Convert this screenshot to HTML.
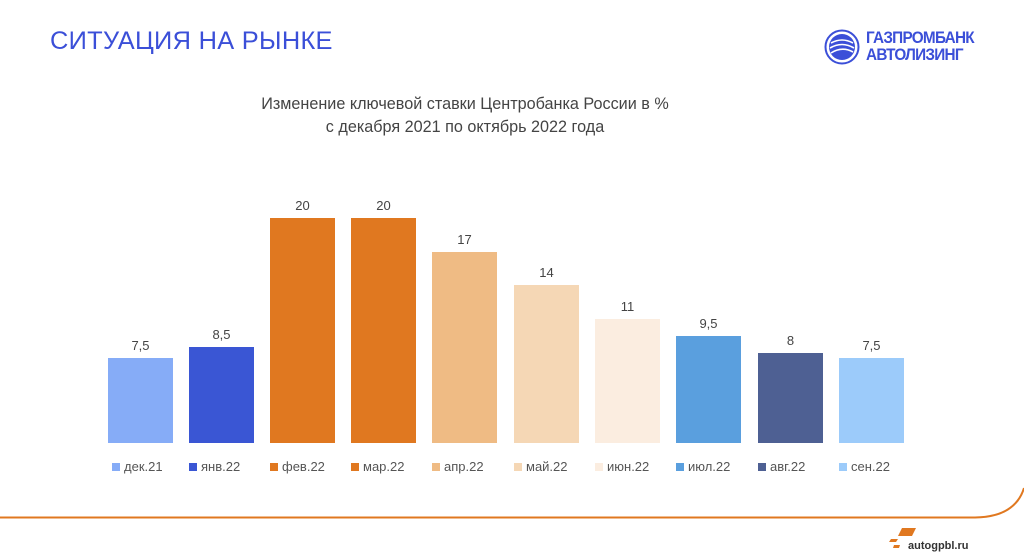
<!DOCTYPE html>
<html><head><meta charset="utf-8"><style>
html,body{margin:0;padding:0;background:#fff;}
body{width:1024px;height:559px;position:relative;overflow:hidden;font-family:"Liberation Sans",sans-serif;}
.t{position:absolute;white-space:nowrap;}
.bar{position:absolute;width:65px;}
.v{position:absolute;width:65px;text-align:center;font-size:13px;color:#444;}
.lg{position:absolute;top:459px;font-size:13px;color:#555;white-space:nowrap;}
.lg i{display:inline-block;width:8px;height:8px;margin-right:4px;vertical-align:0px;}
</style></head><body>
<div class="t" style="left:50px;top:27px;font-size:25.4px;color:#3b4fd8;letter-spacing:0.3px;">СИТУАЦИЯ НА РЫНКЕ</div>
<svg style="position:absolute;left:824px;top:29px" width="36" height="36" viewBox="0 0 36 36">
<circle cx="18" cy="18" r="16.5" fill="none" stroke="#3b4fd8" stroke-width="2"/>
<circle cx="18" cy="18" r="13" fill="#3b4fd8"/>
<path d="M7 14 Q18 8 29 14 M6 19 Q18 12 30 19 M7 24 Q18 17 29 23" stroke="#fff" stroke-width="1.6" fill="none"/>
</svg>
<div class="t" style="left:866px;top:29px;font-size:17px;font-weight:bold;color:#3b4fd8;line-height:17px;letter-spacing:-0.8px;transform:scaleX(0.9);transform-origin:left;">ГАЗПРОМБАНК<br>АВТОЛИЗИНГ</div>
<div class="t" style="left:0;width:930px;text-align:center;top:93px;font-size:16.2px;color:#444;line-height:23px;">Изменение ключевой ставки Центробанка России в %<br>с декабря 2021 по октябрь 2022 года</div>

<div class="bar" style="left:108px;top:358px;height:85px;background:#86acf7"></div>
<div class="bar" style="left:189px;top:347px;height:96px;background:#3a56d4"></div>
<div class="bar" style="left:270px;top:218px;height:225px;background:#e07820"></div>
<div class="bar" style="left:351px;top:218px;height:225px;background:#e07820"></div>
<div class="bar" style="left:432px;top:252px;height:191px;background:#efbb84"></div>
<div class="bar" style="left:514px;top:285px;height:158px;background:#f5d7b5"></div>
<div class="bar" style="left:595px;top:319px;height:124px;background:#fbede0"></div>
<div class="bar" style="left:676px;top:336px;height:107px;background:#5a9fde"></div>
<div class="bar" style="left:758px;top:353px;height:90px;background:#4e6093"></div>
<div class="bar" style="left:839px;top:358px;height:85px;background:#9ccbfa"></div>

<div class="v" style="left:108px;top:338px">7,5</div>
<div class="v" style="left:189px;top:327px">8,5</div>
<div class="v" style="left:270px;top:198px">20</div>
<div class="v" style="left:351px;top:198px">20</div>
<div class="v" style="left:432px;top:232px">17</div>
<div class="v" style="left:514px;top:265px">14</div>
<div class="v" style="left:595px;top:299px">11</div>
<div class="v" style="left:676px;top:316px">9,5</div>
<div class="v" style="left:758px;top:333px">8</div>
<div class="v" style="left:839px;top:338px">7,5</div>

<div class="lg" style="left:112px"><i style="background:#86acf7"></i>дек.21</div>
<div class="lg" style="left:189px"><i style="background:#3a56d4"></i>янв.22</div>
<div class="lg" style="left:270px"><i style="background:#e07820"></i>фев.22</div>
<div class="lg" style="left:351px"><i style="background:#e07820"></i>мар.22</div>
<div class="lg" style="left:432px"><i style="background:#efbb84"></i>апр.22</div>
<div class="lg" style="left:514px"><i style="background:#f5d7b5"></i>май.22</div>
<div class="lg" style="left:595px"><i style="background:#fbede0"></i>июн.22</div>
<div class="lg" style="left:676px"><i style="background:#5a9fde"></i>июл.22</div>
<div class="lg" style="left:758px"><i style="background:#4e6093"></i>авг.22</div>
<div class="lg" style="left:839px"><i style="background:#9ccbfa"></i>сен.22</div>

<svg style="position:absolute;left:0;top:0" width="1024" height="559">
<path d="M0 517.5 L975 517.5 Q1015 517 1024 488" stroke="#e07820" stroke-width="2" fill="none"/>
<path d="M898 536 L912 536 L916 528 L902 528 Z M889 542 L896 542 L898 539 L891 539 Z M893 548 L899 548 L900 545 L894 545 Z" fill="#e07820"/>
</svg>
<div class="t" style="left:908px;top:540px;font-size:11px;font-weight:bold;color:#333;">autogpbl.ru</div>
</body></html>
